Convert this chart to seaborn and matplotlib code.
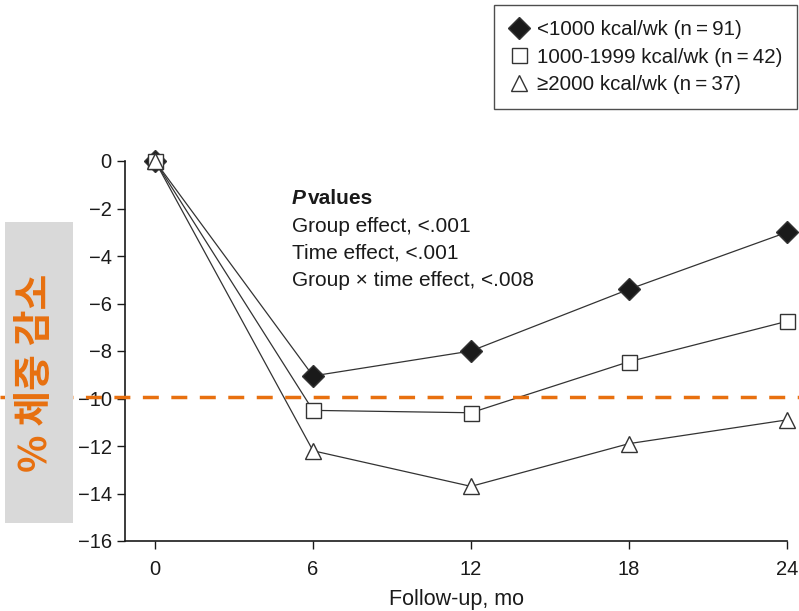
import matplotlib
matplotlib.use("Agg")
import matplotlib.pyplot as plt
import seaborn as sns
import pandas as pd
from matplotlib.patches import Rectangle
from matplotlib.lines import Line2D

months = [0, 6, 12, 18, 24]
grp_low = [0, -9.05, -8.0, -5.4, -3.0]
grp_mid = [0, -10.5, -10.6, -8.45, -6.75]
grp_high = [0, -12.2, -13.7, -11.9, -10.9]
labels = ["<1000 kcal/wk (n\u2009=\u200991)", "1000-1999 kcal/wk (n\u2009=\u200942)", "\u22652000 kcal/wk (n\u2009=\u200937)"]
yticks = [0, -2, -4, -6, -8, -10, -12, -14, -16]
ref_line = -10

sns.set_theme(style="ticks")
plt.rcParams['font.family'] = ['Liberation Sans', 'DejaVu Sans']

df = pd.DataFrame({
    "month": months * 3,
    "value": grp_low + grp_mid + grp_high,
    "group": [labels[0]] * 5 + [labels[1]] * 5 + [labels[2]] * 5,
})

fig = plt.figure(figsize=(7.99, 6.11), dpi=100)
ax = fig.add_axes([125/799, 1-541/611, (787-125)/799, (541-161)/611])

markers = {labels[0]: "D", labels[1]: "s", labels[2]: "^"}
faces = {labels[0]: "#1a1a1a", labels[1]: "white", labels[2]: "white"}
sizes = {labels[0]: 11.5, labels[1]: 10.8, labels[2]: 12}
sns.lineplot(data=df, x="month", y="value", hue="group", palette=["#333333"]*3,
             legend=False, ax=ax, linewidth=0.9)
handles = []
for lab in labels:
    sub = df[df.group == lab]
    h, = ax.plot(sub.month, sub.value, linestyle="none", marker=markers[lab],
                 markersize=sizes[lab], markerfacecolor=faces[lab], markeredgecolor="#333333",
                 markeredgewidth=1.0, clip_on=False, zorder=5, label=lab)
    handles.append(h)

ax.set_xlim(-1.14, 24)
ax.set_ylim(-16, 0)
ax.set_xticks(months)
ax.set_yticks(yticks)
ax.set_yticklabels([str(t).replace("-", "\u2212") for t in yticks])
ax.tick_params(axis="both", direction="out", length=6, width=1, labelsize=14.5, colors="#1a1a1a")
ax.tick_params(axis="x", pad=8)
for s in ["top", "right"]:
    ax.spines[s].set_visible(False)
for s in ["left", "bottom"]:
    ax.spines[s].set_linewidth(1.2)
    ax.spines[s].set_color("#1a1a1a")
ax.set_xlabel("Follow-up, mo", fontsize=15.5, labelpad=7, color="#1a1a1a")
ax.set_ylabel("")

# P values text
tx = 5.2
ax.text(tx, -1.6, "P", fontsize=15, fontweight="bold", fontstyle="italic", va="center", ha="left", color="#1a1a1a")
ax.text(tx + 0.62, -1.6, "values", fontsize=15, fontweight="bold", va="center", ha="left", color="#1a1a1a")
ax.text(tx, -2.74, "Group effect, <.001", fontsize=15, va="center", ha="left", color="#1a1a1a")
ax.text(tx, -3.87, "Time effect, <.001", fontsize=15, va="center", ha="left", color="#1a1a1a")
ax.text(tx, -5.05, "Group \u00d7 time effect, <.008", fontsize=15, va="center", ha="left", color="#1a1a1a")

# legend
leg = fig.legend(handles=handles, labels=labels, loc="upper right",
                 bbox_to_anchor=(797/799, 1-5/611), fontsize=14.8,
                 frameon=True, fancybox=False, edgecolor="#222222", handletextpad=0.35,
                 handlelength=1.0, borderpad=0.73, labelspacing=0.42, borderaxespad=0)
leg.get_frame().set_linewidth(1.0)
for t in leg.get_texts():
    t.set_color("#1a1a1a")

# orange dashed reference line across the whole figure (figure-level artist)
y_fig = ax.transData.transform((0, ref_line))[1] / fig.bbox.height
fig.add_artist(Line2D([0, 1], [y_fig + 0.002, y_fig + 0.002], transform=fig.transFigure,
                      color="#e8700f", linestyle=(0, (4.6, 3.6)), linewidth=2.5, zorder=1))

# gray box with Korean label
fig.add_artist(Rectangle((5/799, 1-523/611), 68/799, 301/611, transform=fig.transFigure,
                         facecolor="#d9d9d9", edgecolor="none", zorder=2))
fig.text(36/799, 1-373/611, "% 체중 감소", rotation=90, color="#e8700f", fontsize=28,
         fontweight="bold", ha="center", va="center", zorder=3,
         family=["Noto Sans CJK KR", "DejaVu Sans"])

fig.savefig("out.png", dpi=100)
